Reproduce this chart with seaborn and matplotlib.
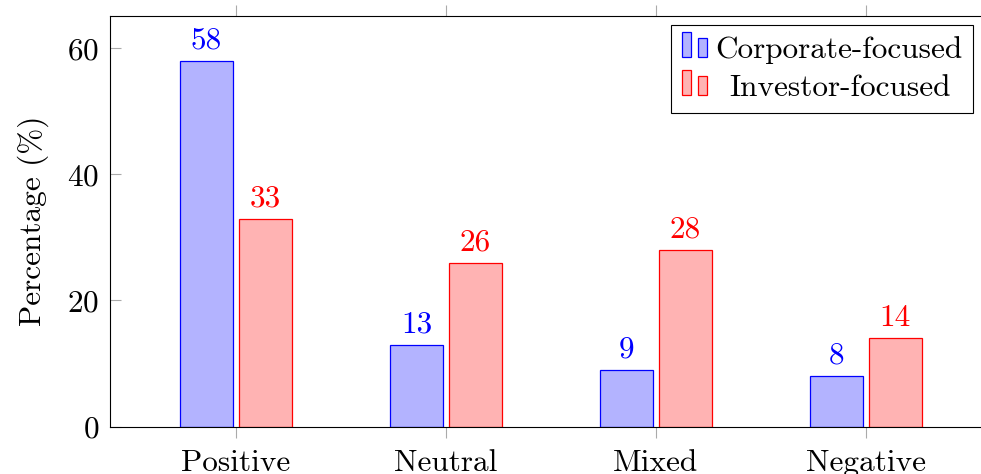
import numpy as np
import pandas as pd
import matplotlib
matplotlib.use('Agg')
import matplotlib.pyplot as plt
import seaborn as sns
from matplotlib.legend_handler import HandlerBase
from matplotlib.patches import Rectangle

categories = ['Positive', 'Neutral', 'Mixed', 'Negative']
series = ['Corporate-focused', 'Investor-focused']
corporate = [58, 13, 9, 8]
investor = [33, 26, 28, 14]
y_ticks = [0, 20, 40, 60]

plt.rcParams['font.family'] = ['cmr10', 'DejaVu Serif']
plt.rcParams['mathtext.fontset'] = 'cm'
plt.rcParams['axes.unicode_minus'] = False
plt.rcParams['axes.formatter.use_mathtext'] = True

FS = 22.5

df = pd.DataFrame({
    'category': categories * 2,
    'series': [series[0]] * len(categories) + [series[1]] * len(categories),
    'value': corporate + investor,
})

fills = {series[0]: (0.7, 0.7, 1.0), series[1]: (1.0, 0.7, 0.7)}
edges = {series[0]: (0, 0, 1), series[1]: (1, 0, 0)}

fig = plt.figure(figsize=(9.81, 4.74), dpi=100)
W, H = 981, 474
left_px, right_px, top_px, bot_px = 110, 992, 16, 426.5
ax = fig.add_axes([left_px / W, (H - bot_px) / H, (right_px - left_px) / W, (bot_px - top_px) / H])

sns.barplot(data=df, x='category', y='value', hue='series', order=categories,
            hue_order=series, palette=fills, width=0.56, gap=0.1, saturation=1,
            ax=ax, legend=False)

vals = [corporate, investor]
for i, cont in enumerate(ax.containers):
    s = series[i]
    for p in cont.patches:
        p.set_edgecolor(edges[s])
        p.set_linewidth(0.9)
    ax.bar_label(cont, labels=[str(v) for v in vals[i]], padding=4.5,
                 color=edges[s], fontsize=FS)

ax.set_xlim(-0.6, 3.6)
ax.set_ylim(0, 65.15)
ax.set_yticks(y_ticks)
ax.set_xlabel('')
ax.set_ylabel('Percentage (%)', fontsize=FS, labelpad=13)

for sp in ax.spines.values():
    sp.set_linewidth(0.8)
    sp.set_color('black')

ax.tick_params(axis='x', direction='out', top=True, bottom=True, length=8,
               color='#aaaaaa', width=0.8, labelsize=FS, pad=8)
ax.tick_params(axis='y', direction='in', left=True, right=True, length=8,
               color='#aaaaaa', width=0.8, labelsize=FS, pad=8)


class TwoBarHandler(HandlerBase):
    def __init__(self, fc, ec):
        super().__init__()
        self.fc = fc
        self.ec = ec

    def create_artists(self, legend, orig_handle, xdescent, ydescent, width, height, fontsize, trans):
        bw = width * 0.36
        r1 = Rectangle((-xdescent, -ydescent), bw, height * 1.25,
                       facecolor=self.fc, edgecolor=self.ec, lw=0.9, transform=trans)
        r2 = Rectangle((-xdescent + width - bw, -ydescent), bw, height * 0.97,
                       facecolor=self.fc, edgecolor=self.ec, lw=0.9, transform=trans)
        return [r1, r2]


h1 = Rectangle((0, 0), 1, 1)
h2 = Rectangle((0, 0), 1, 1)
leg = ax.legend([h1, h2], series, loc='upper right',
                bbox_to_anchor=(973 / W, 1 - 25 / H), bbox_transform=fig.transFigure,
                borderaxespad=0, fontsize=FS, frameon=True, fancybox=False,
                edgecolor='black', framealpha=1, handlelength=0.8, handleheight=0.6,
                handletextpad=0.25, borderpad=0.35, labelspacing=0.33,
                handler_map={h1: TwoBarHandler(fills[series[0]], edges[series[0]]),
                             h2: TwoBarHandler(fills[series[1]], edges[series[1]])})
leg.get_frame().set_linewidth(0.8)
# centre the shorter entry inside the legend column, as in the reference
leg.get_texts()[1].set_x(14)

fig.savefig('out.png', dpi=100)
